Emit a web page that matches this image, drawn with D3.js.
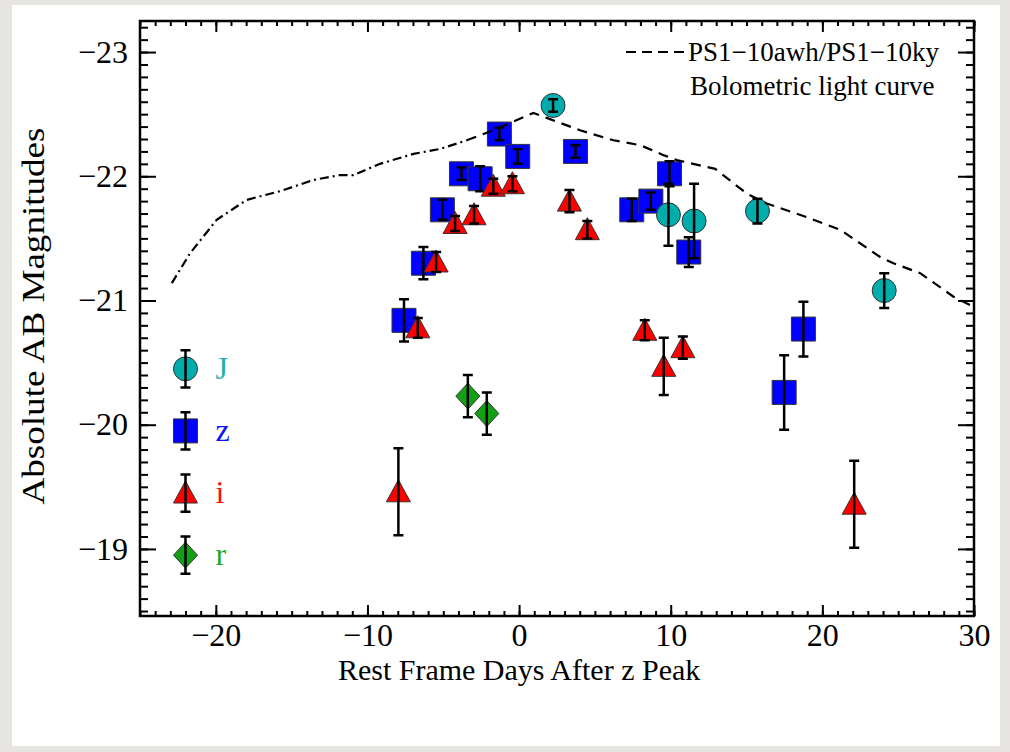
<!doctype html>
<html>
<head>
<meta charset="utf-8">
<title>Absolute AB Magnitudes vs Rest Frame Days</title>
<script src="https://cdn.jsdelivr.net/npm/d3@7"></script>
<style>
  body { margin: 0; background: #e7e5e2; }
  text { font-family: "Liberation Serif", "DejaVu Serif", serif; }
</style>
</head>
<body>
<script>
// J band (days after z peak, abs mag, error)
var jDays = [2.24, 9.85, 11.54, 15.72, 24.08];
var jMags = [-22.57, -21.69, -21.64, -21.72, -21.08];
var jErr  = [0.05, 0.25, 0.30, 0.10, 0.14];

// z band
var zDays = [-7.59, -6.31, -5.06, -3.80, -2.57, -1.30, -0.09, 3.72, 7.43, 8.69, 9.92, 11.19, 17.48, 18.75];
var zMags = [-20.84, -21.30, -21.73, -22.02, -21.98, -22.34, -22.16, -22.20, -21.73, -21.80, -22.02, -21.39, -20.26, -20.77];
var zErr  = [0.17, 0.13, 0.08, 0.05, 0.10, 0.05, 0.06, 0.05, 0.09, 0.07, 0.10, 0.12, 0.30, 0.22];

// i band
var iDays = [-7.96, -6.68, -5.47, -4.22, -2.97, -1.70, -0.44, 3.32, 4.50, 8.29, 9.54, 10.80, 22.10];
var iMags = [-19.46, -20.78, -21.31, -21.62, -21.69, -21.92, -21.94, -21.80, -21.57, -20.76, -20.47, -20.62, -19.36];
var iErr  = [0.35, 0.08, 0.08, 0.06, 0.07, 0.06, 0.06, 0.09, 0.07, 0.08, 0.23, 0.09, 0.35];

// r band
var rDays = [-3.38, -2.13];
var rMags = [-20.23, -20.09];
var rErr  = [0.17, 0.17];

// bolometric light curve (dash-dot part is before bolSplitDay)
var bolDays = [-22.9, -21.7, -19.94, -17.96, -15.76, -13.57, -11.8, -10.93, -9.17, -6.97, -5.21, -3.45,
               -1.91, -0.38, 0.94, 2.04, 4.02, 6.22, 8.0, 9.52, 10.4, 12.93, 15.02, 16.34, 18.98,
               21.17, 23.81, 24.69, 26.45, 28.65, 29.97];
var bolMags = [-21.14, -21.38, -21.65, -21.81, -21.88, -21.97, -22.01, -22.01, -22.10, -22.18, -22.22, -22.29,
               -22.36, -22.44, -22.51, -22.46, -22.37, -22.29, -22.25, -22.17, -22.13, -22.06, -21.86, -21.78, -21.67,
               -21.57, -21.35, -21.30, -21.22, -21.03, -20.95];
var bolSplitDay = -3.45;

var xTicks = [-20, -10, 0, 10, 20, 30];
var yTicks = [-23, -22, -21, -20, -19];

var width = 1010, height = 752;
var plotL = 140, plotR = 974, plotT = 21, plotB = 616;

var x = d3.scaleLinear().domain([-25, 30]).range([plotL, plotR]);
var y = d3.scaleLinear().domain([-23.25, -18.46]).range([plotT, plotB]);

var svg = d3.select("body").append("svg")
    .attr("width", width)
    .attr("height", height);

// page background
svg.append("rect").attr("width", width).attr("height", height).attr("fill", "#e7e5e2");
svg.append("rect").attr("x", 12).attr("y", 5).attr("width", 988).attr("height", 741).attr("fill", "#ffffff");

var fontSize = 32;
var intFmt = d3.format("d");

// axes, ticks inward on all sides
function minorRange(a, b, s) {
    var out = [];
    for (var v = a; v <= b + 1e-9; v += s) out.push(+v.toFixed(2));
    return out;
}
var xMinor = minorRange(-25, 30, 1);
var yMinor = minorRange(-23.2, -18.5, 0.1);

function styleAxis(g) {
    g.select(".domain").remove();
    g.selectAll("line").attr("stroke", "#000").attr("stroke-width", 2);
    g.selectAll("text").attr("font-family", "Liberation Serif").attr("font-size", fontSize).attr("fill", "#000");
}

svg.append("g").attr("transform", "translate(0," + plotB + ")")
    .call(d3.axisBottom(x).tickValues(xMinor).tickSize(-5).tickFormat("")).call(styleAxis);
svg.append("g").attr("transform", "translate(0," + plotB + ")")
    .call(d3.axisBottom(x).tickValues(xTicks).tickSize(-11).tickPadding(7).tickFormat(intFmt)).call(styleAxis);
svg.append("g").attr("transform", "translate(0," + plotT + ")")
    .call(d3.axisTop(x).tickValues(xMinor).tickSize(-5).tickFormat("")).call(styleAxis);
svg.append("g").attr("transform", "translate(0," + plotT + ")")
    .call(d3.axisTop(x).tickValues(xTicks).tickSize(-11).tickFormat("")).call(styleAxis);

svg.append("g").attr("transform", "translate(" + plotL + ",0)")
    .call(d3.axisLeft(y).tickValues(yMinor).tickSize(-8).tickFormat("")).call(styleAxis);
svg.append("g").attr("transform", "translate(" + plotL + ",0)")
    .call(d3.axisLeft(y).tickValues(yTicks).tickSize(-16).tickPadding(12).tickFormat(intFmt)).call(styleAxis);
svg.append("g").attr("transform", "translate(" + plotR + ",0)")
    .call(d3.axisRight(y).tickValues(yMinor).tickSize(-8).tickFormat("")).call(styleAxis);
svg.append("g").attr("transform", "translate(" + plotR + ",0)")
    .call(d3.axisRight(y).tickValues(yTicks).tickSize(-16).tickFormat("")).call(styleAxis);

svg.append("rect")
    .attr("x", plotL).attr("y", plotT)
    .attr("width", plotR - plotL).attr("height", plotB - plotT)
    .attr("fill", "none").attr("stroke", "#000").attr("stroke-width", 2.5);

// axis titles
svg.append("text")
    .attr("x", x(0)).attr("y", 680)
    .attr("text-anchor", "middle").attr("font-size", 30)
    .text("Rest Frame Days After z Peak");
svg.append("text")
    .attr("transform", "translate(44,316) rotate(-90)")
    .attr("text-anchor", "middle").attr("font-size", fontSize)
    .attr("textLength", 377).attr("lengthAdjust", "spacingAndGlyphs")
    .text("Absolute AB Magnitudes");

// marker shapes
function shapePath(kind) {
    if (kind === "square") return "M-12,-12H12V12H-12Z";
    if (kind === "triangle") return "M0,-12L12,10H-12Z";
    if (kind === "diamond") return "M0,-13L12,0L0,13L-12,0Z";
    return "M-12,0A12,12 0 1,0 12,0A12,12 0 1,0 -12,0Z";
}

function errPath(cx, y0, y1) {
    return "M" + cx + "," + y0 + "V" + y1 +
           "M" + (cx - 5) + "," + y0 + "H" + (cx + 5) +
           "M" + (cx - 5) + "," + y1 + "H" + (cx + 5);
}

function drawSeries(days, mags, errs, kind, color) {
    var pts = days.map(function(d, i) { return {d: d, m: mags[i], e: errs[i]}; });
    var node = svg.append("g").selectAll("g").data(pts).enter().append("g");
    node.append("path")
        .attr("d", shapePath(kind))
        .attr("transform", function(p) { return "translate(" + x(p.d) + "," + y(p.m) + ")"; })
        .attr("fill", color).attr("stroke", "#333").attr("stroke-width", 1);
    node.append("path")
        .attr("d", function(p) { return errPath(x(p.d), y(p.m - p.e), y(p.m + p.e)); })
        .attr("fill", "none").attr("stroke", "#000").attr("stroke-width", 2.5);
}

drawSeries(zDays, zMags, zErr, "square", "#0000ff");
drawSeries(iDays, iMags, iErr, "triangle", "#ff0000");
drawSeries(rDays, rMags, rErr, "diamond", "#14a014");
drawSeries(jDays, jMags, jErr, "circle", "#00adad");

// bolometric light curve
var bol = bolDays.map(function(d, i) { return {d: d, m: bolMags[i]}; });
var line = d3.line().x(function(p) { return x(p.d); }).y(function(p) { return y(p.m); });
svg.append("path")
    .datum(bol.filter(function(p) { return p.d <= bolSplitDay; }))
    .attr("d", line).attr("fill", "none").attr("stroke", "#000")
    .attr("stroke-width", 2.2).attr("stroke-dasharray", "9,4,2,4");
svg.append("path")
    .datum(bol.filter(function(p) { return p.d >= bolSplitDay; }))
    .attr("d", line).attr("fill", "none").attr("stroke", "#000")
    .attr("stroke-width", 2.2).attr("stroke-dasharray", "10,7");

// legend for the curve (top right)
svg.append("line")
    .attr("x1", 626).attr("x2", 684).attr("y1", 52).attr("y2", 52)
    .attr("stroke", "#000").attr("stroke-width", 2.2).attr("stroke-dasharray", "10,6");
svg.append("text").attr("x", 688).attr("y", 61).attr("font-size", 27).text("PS1\u221210awh/PS1\u221210ky");
svg.append("text").attr("x", 690).attr("y", 95).attr("font-size", 27).text("Bolometric light curve");

// band legend (left)
var bandNames  = ["J", "z", "i", "r"];
var bandKinds  = ["circle", "square", "triangle", "diamond"];
var bandFills  = ["#00adad", "#0000ff", "#ff0000", "#14a014"];
var bandText   = ["#1fb1b1", "#1010ff", "#ff1010", "#22aa22"];
var bandLegY   = [-20.45, -19.95, -19.45, -18.95];
var legDay = -22.0;

bandNames.forEach(function(name, i) {
    var cx = x(legDay), cy = y(bandLegY[i]);
    svg.append("path").attr("d", shapePath(bandKinds[i]))
        .attr("transform", "translate(" + cx + "," + cy + ")")
        .attr("fill", bandFills[i]).attr("stroke", "#333").attr("stroke-width", 1);
    svg.append("path")
        .attr("d", errPath(cx, y(bandLegY[i] - 0.15), y(bandLegY[i] + 0.15)))
        .attr("fill", "none").attr("stroke", "#000").attr("stroke-width", 2.5);
    svg.append("text").attr("x", cx + 30).attr("y", cy + 10)
        .attr("font-size", fontSize).attr("fill", bandText[i]).text(name);
});
</script>
</body>
</html>
